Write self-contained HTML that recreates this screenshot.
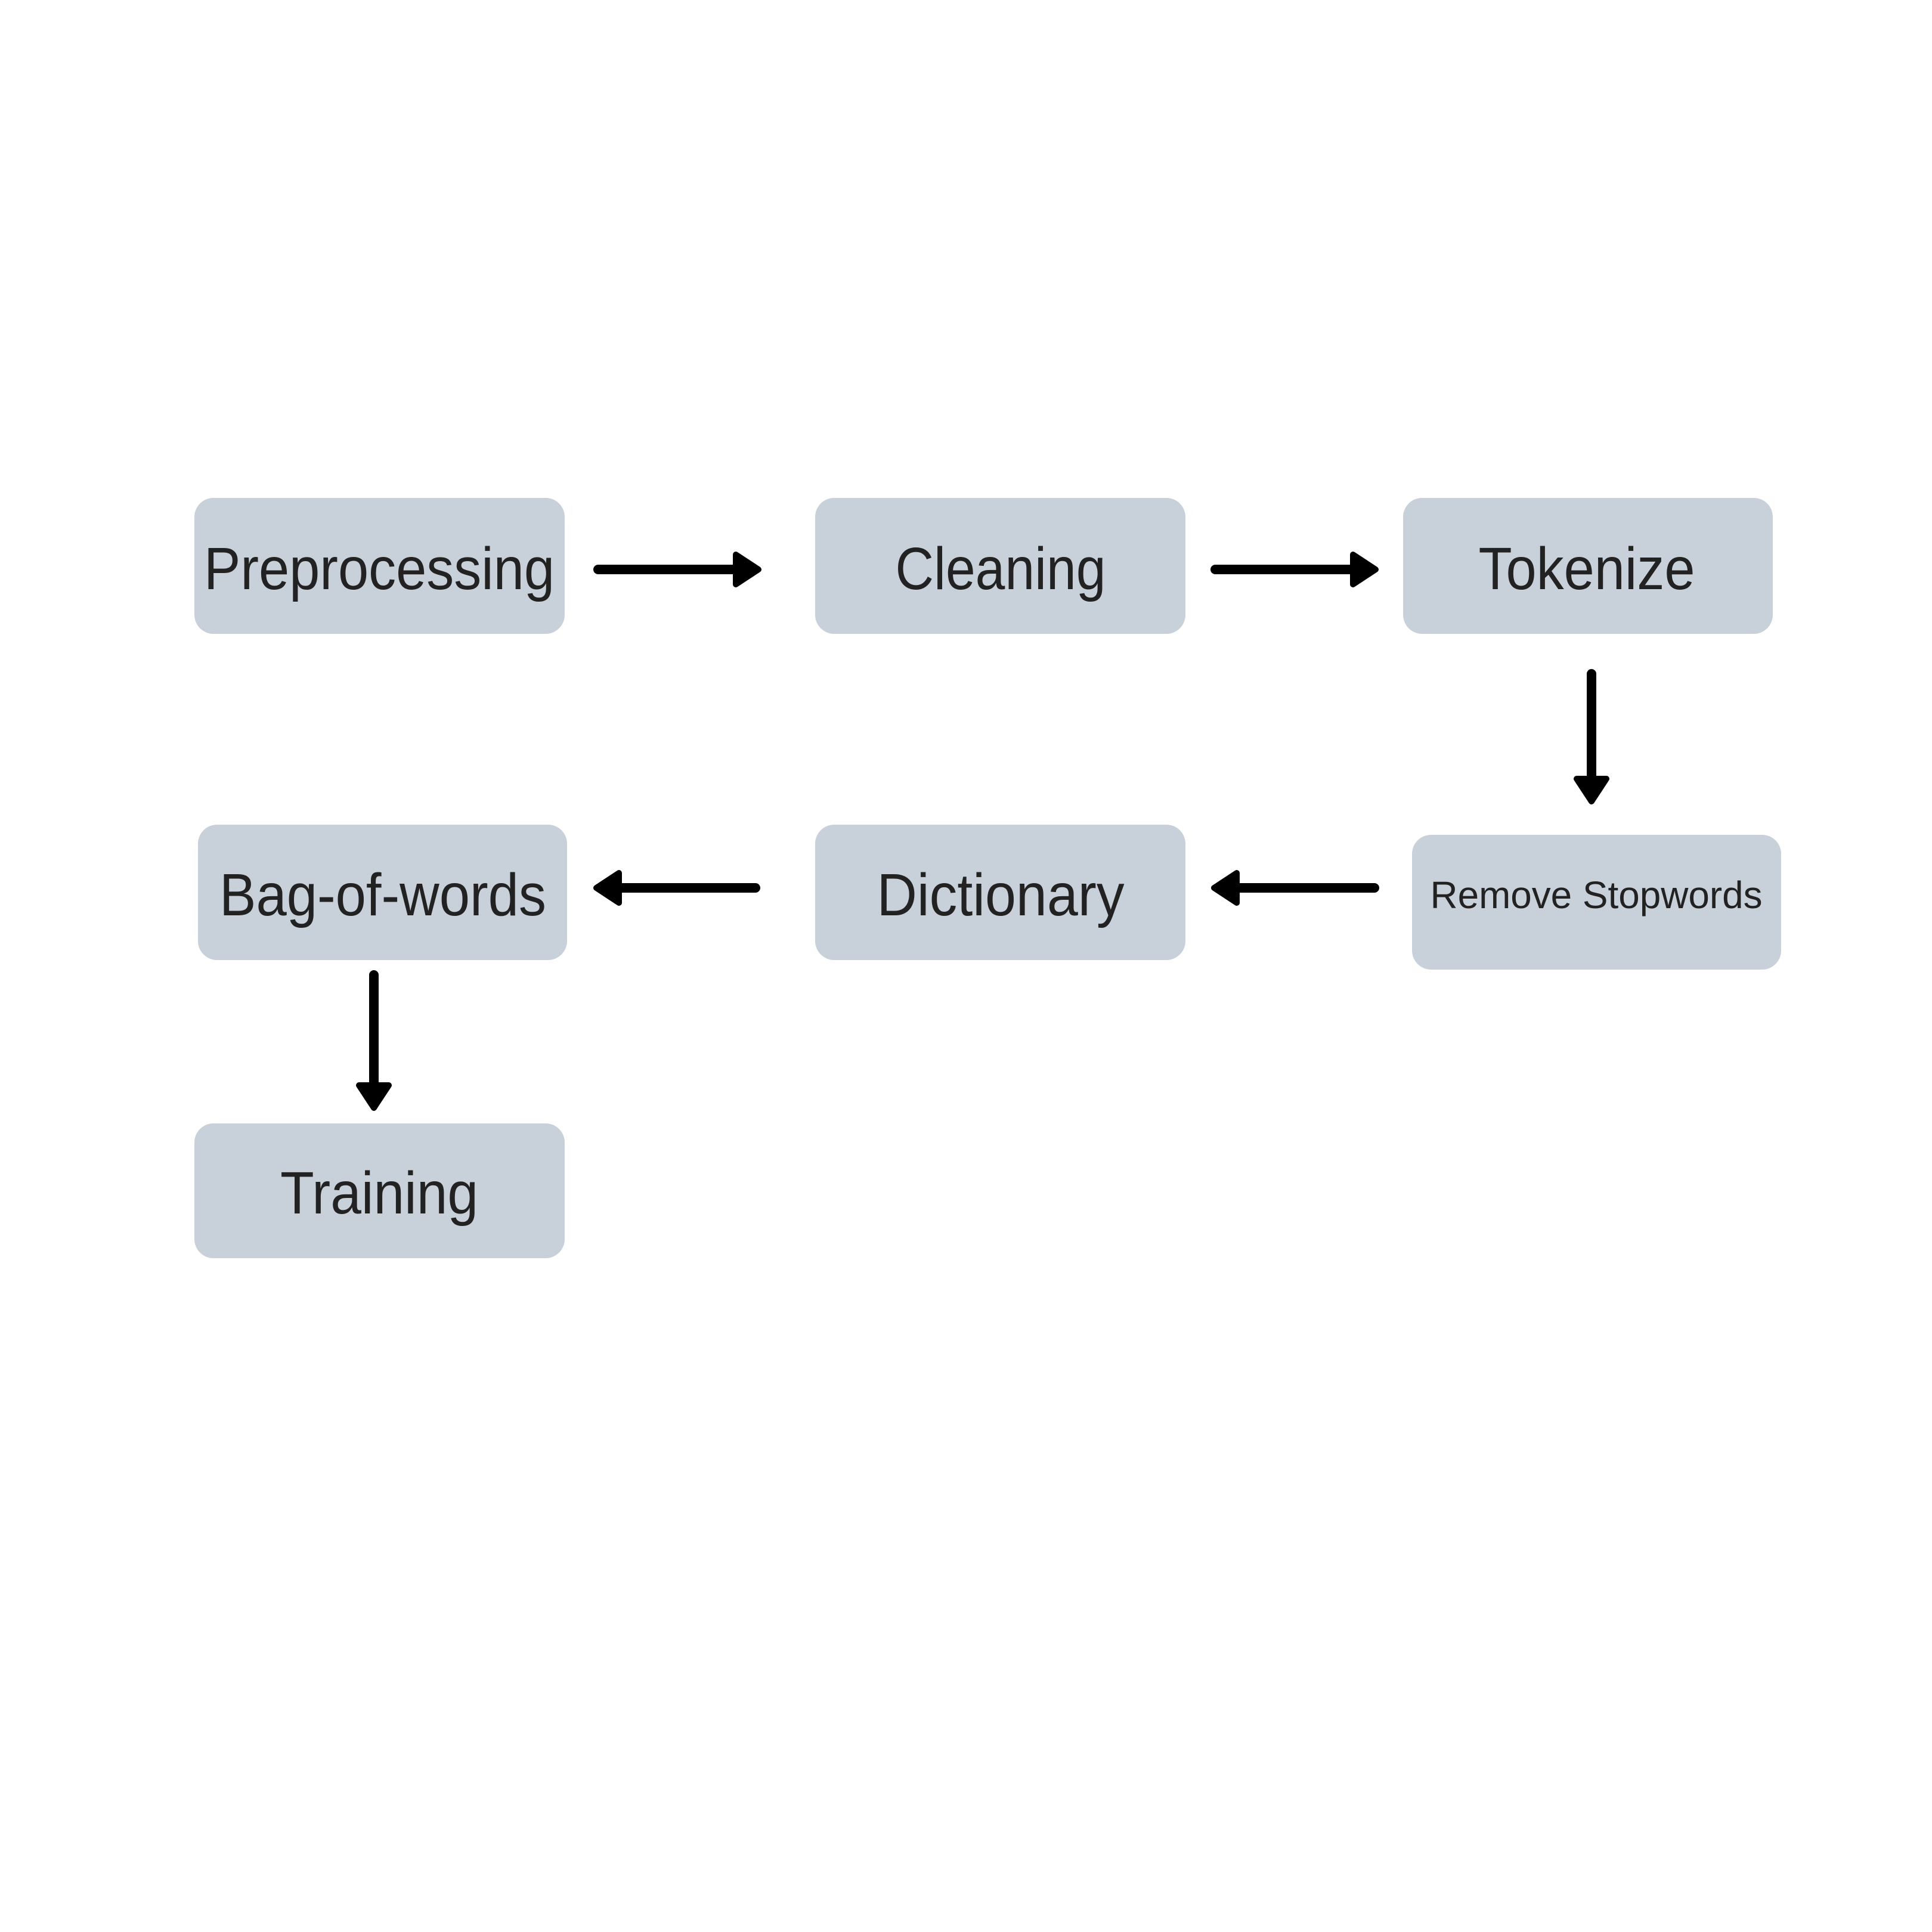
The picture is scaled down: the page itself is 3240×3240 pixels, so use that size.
<!DOCTYPE html>
<html><head><meta charset="utf-8"><style>
html,body{margin:0;padding:0;background:#fff;}
svg{display:block;}
text{font-family:"Liberation Sans",sans-serif;fill:#222;text-anchor:middle;}
</style></head><body>
<svg width="3240" height="3240" viewBox="0 0 3240 3240" xmlns="http://www.w3.org/2000/svg">
<rect width="3240" height="3240" fill="#fff"/>
<g fill="#c8d0d9">
<rect x="326" y="835" width="621" height="228" rx="32"/>
<rect x="1367" y="835" width="621" height="228" rx="32"/>
<rect x="2353" y="835" width="620" height="228" rx="32"/>
<rect x="332" y="1383" width="619" height="227" rx="32"/>
<rect x="1367" y="1383" width="621" height="227" rx="32"/>
<rect x="2368" y="1400" width="619" height="226" rx="32"/>
<rect x="326" y="1884" width="621" height="226" rx="32"/>
</g>
<g font-size="100">
<text x="636" y="988" textLength="588" lengthAdjust="spacingAndGlyphs">Preprocessing</text>
<text x="1678" y="988" textLength="353" lengthAdjust="spacingAndGlyphs">Cleaning</text>
<text x="2661" y="988" textLength="363" lengthAdjust="spacingAndGlyphs">Tokenize</text>
<text x="642" y="1535" textLength="548" lengthAdjust="spacingAndGlyphs">Bag-of-words</text>
<text x="1678" y="1535" textLength="415" lengthAdjust="spacingAndGlyphs">Dictionary</text>
<text x="636" y="2035" textLength="332" lengthAdjust="spacingAndGlyphs">Training</text>
</g>
<text x="2677" y="1523" font-size="64" textLength="557" lengthAdjust="spacingAndGlyphs">Remove Stopwords</text>
<g stroke="#000" stroke-width="16" stroke-linecap="round" fill="none">
<line x1="1003" y1="955" x2="1240" y2="955"/>
<line x1="2038" y1="955" x2="2275" y2="955"/>
<line x1="2669" y1="1130" x2="2669" y2="1312"/>
<line x1="2305" y1="1489" x2="2068" y2="1489"/>
<line x1="1267" y1="1489" x2="1032" y2="1489"/>
<line x1="627" y1="1635" x2="627" y2="1826"/>
</g>
<g fill="#000" stroke="#000" stroke-width="10" stroke-linejoin="round">
<polygon points="1234,930 1272,955 1234,980"/>
<polygon points="2269,930 2307,955 2269,980"/>
<polygon points="2644,1306 2694,1306 2669,1344"/>
<polygon points="2074,1464 2036,1489 2074,1514"/>
<polygon points="1038,1464 1000,1489 1038,1514"/>
<polygon points="602,1820 652,1820 627,1858"/>
</g>
</svg>
</body></html>
